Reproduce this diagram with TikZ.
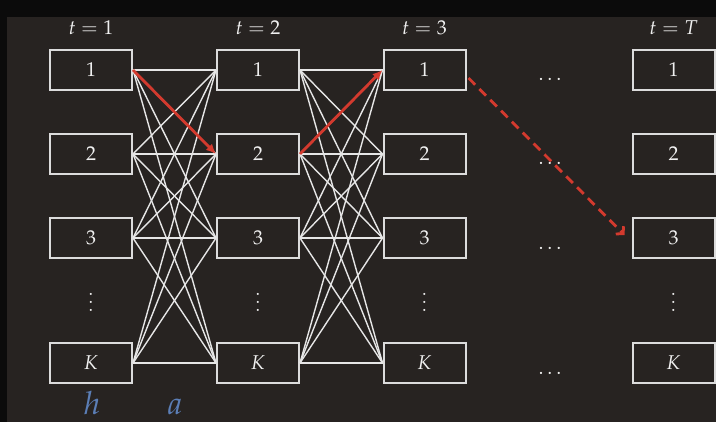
\documentclass[tikz,border=0pt]{standalone}
\usepackage{mathpazo}
\usetikzlibrary{arrows.meta}
\definecolor{bg}{HTML}{272321}
\definecolor{frame}{HTML}{0B0B0B}
\definecolor{wire}{HTML}{E6E6E6}
\definecolor{boxline}{HTML}{DCDCDC}
\definecolor{ink}{HTML}{F0F0F0}
\definecolor{pathred}{HTML}{D33A2E}
\definecolor{varblue}{HTML}{5B7EB6}
\begin{document}
\begin{tikzpicture}[x=0.5pt,y=-0.5pt,
  state/.style={draw=boxline, line width=1pt, minimum width=41pt,
                minimum height=20pt, inner sep=0pt, text=ink},
  conn/.style={draw=wire, line width=0.7pt},
  chosen/.style={draw=pathred, line width=1.4pt,
                 -{Latex[length=5pt,width=4.5pt]}},
  jump/.style={draw=pathred, line width=1.4pt, dash pattern=on 4.7pt off 3pt,
               -{Straight Barb[length=2.5pt,width=5.5pt]}},
  stagelabel/.style={anchor=base, text=ink},
  dotsfill/.style={anchor=base, text=ink},
  varlabel/.style={anchor=base, text=varblue, font=\fontsize{16}{18}\selectfont}]
  \useasboundingbox (0,0) rectangle (716,422);
  % backdrop and dark border strips
  \fill[bg] (0,0) rectangle (716,422);
  \fill[frame] (0,0) rectangle (716,17);
  \fill[frame] (0,0) rectangle (7,422);

  % state boxes for every stage
  \foreach \c/\x/\t in {1/91/1, 2/258/2, 3/424.5/3, T/673.5/T} {
    \node[stagelabel] (lab\c) at (\x,35) {$t=\t$};
    \foreach \r/\y in {1/70, 2/154, 3/238, K/363} {
      \node[state] (c\c r\r) at (\x,\y) {$\r$};
    }
    \node[dotsfill] (vd\c) at (\x,311) {$\vdots$};
  }

  % horizontal dots between stage 3 and stage T
  \foreach \r/\y in {1/81, 2/165, 3/249, K/374} {
    \node[dotsfill] (hd\r) at (550,\y) {$\ldots$};
  }

  % full transition lattice between consecutive stages
  \foreach \a in {1,2,3,K} {
    \foreach \b in {1,2,3,K} {
      \draw[conn] (c1r\a.east) -- (c2r\b.west);
      \draw[conn] (c2r\a.east) -- (c3r\b.west);
    }
  }

  % highlighted path
  \draw[chosen] (c1r1.east) -- (c2r2.west);
  \draw[chosen] (c2r2.east) -- (c3r1.west);
  \draw[jump] ([yshift=-4pt,xshift=1pt]c3r1.east) -- ([xshift=-3.5pt,yshift=1.5pt]cTr3.west);

  % variable names
  \node[varlabel] (hlab) at (92,414) {$h$};
  \node[varlabel] (alab) at (175,414) {$a$};
\end{tikzpicture}
\end{document}
